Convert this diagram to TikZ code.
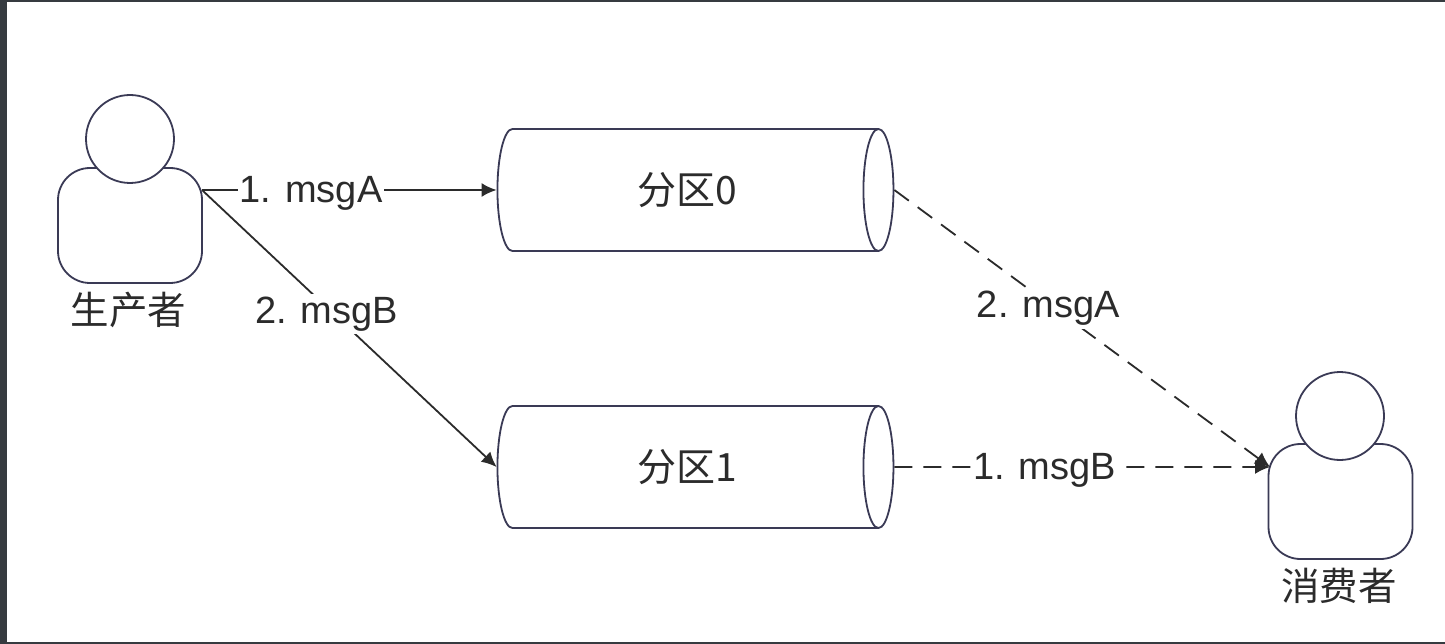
\documentclass[tikz,border=0pt]{standalone}
\usepackage{fontspec}
\setmainfont{Liberation Sans}
\newfontfamily\cjk{Noto Sans CJK SC}
\usetikzlibrary{shapes.geometric,arrows.meta}
\definecolor{outl}{HTML}{3A3A55}
\definecolor{ink}{HTML}{2B2B2B}
\definecolor{frame}{HTML}{363B40}
\tikzset{
  x=1pt,y=-1pt,
  every node/.style={text=ink,font=\fontsize{38}{43}\selectfont},
  actorbody/.style={draw=outl,line width=1.8pt,rounded corners=32pt,minimum width=144pt,minimum height=115pt,inner sep=0pt,fill=white},
  actorhead/.style={draw=outl,line width=1.8pt,circle,minimum size=88pt,inner sep=0pt,fill=white},
  actorname/.style={font=\fontsize{38.5}{44}\selectfont\cjk,inner sep=0pt},
  queue/.style={cylinder,draw=outl,line width=1.8pt,shape aspect=0.85,minimum width=122pt,minimum height=396pt,inner sep=0pt,font=\fontsize{39}{44}\selectfont\cjk},
  link/.style={draw=ink,line width=1.8pt,-{Latex[length=15pt,width=14pt]}},
  dashlink/.style={link,dash pattern=on 18pt off 11pt},
  linklabel/.style={fill=white,inner xsep=2pt,inner ysep=3pt},
}
\begin{document}
\begin{tikzpicture}
\useasboundingbox (0,0) rectangle (1445,644);
\fill[white] (0,0) rectangle (1445,644);
\fill[frame] (0,0) rectangle (7,644);
\fill[frame] (0,0) rectangle (1445,2);
\fill[frame] (0,642) rectangle (1445,644);

\node[actorbody] (pbody) at (130,225.5) {};
\node[actorhead] (phead) at (130,139) {};
\node[actorname] (pname) at (128.5,310) {生产者};

\node[actorbody,minimum width=144pt] (cbody) at (1340.5,501.5) {};
\node[actorhead] (chead) at (1340,416) {};
\node[actorname] (cname) at (1339,586) {消费者};

\node[queue] (q0) at (687.5,190) {分区0};
\node[queue] (q1) at (687.5,467) {分区1};

\coordinate (pout) at (202,190);
\coordinate (cin) at (1270,467);

\draw[link] (pout) -- node[linklabel,pos=0.37,yshift=-3pt] {1. msgA} (q0.west);
\draw[link] (pout) -- node[linklabel,pos=0.43,xshift=-2pt,yshift=-5pt] {2. msgB} (q1.west);
\draw[dashlink] (q0.east) -- node[linklabel,pos=0.41,yshift=-5pt] {2. msgA} (cin);
\draw[dashlink] (q1.east) -- node[linklabel,pos=0.40,yshift=-3pt] {1. msgB} (cin);
\end{tikzpicture}
\end{document}
